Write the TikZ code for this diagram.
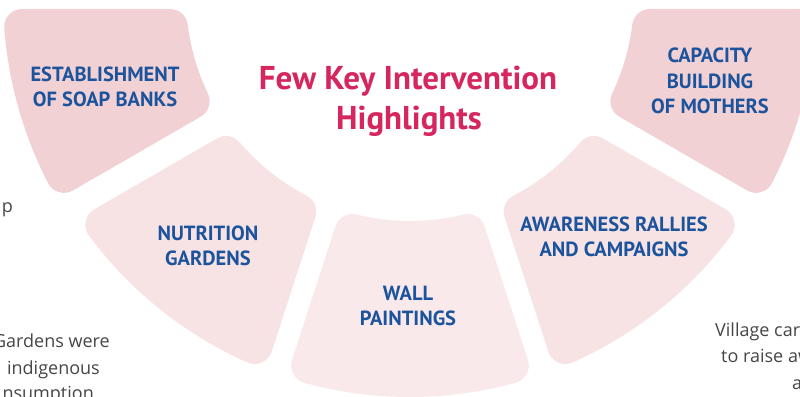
\documentclass[tikz,border=0pt]{standalone}
\usepackage{fontspec}
\setmainfont{PT Sans}
\newfontfamily\lightfont{Open Sans}
\usetikzlibrary{calc}
\definecolor{pinkA}{RGB}{242,209,212}
\definecolor{pinkB}{RGB}{247,227,228}
\definecolor{pinkC}{RGB}{249,233,234}
\definecolor{kblue}{RGB}{27,83,156}
\definecolor{kred}{RGB}{214,38,94}
\definecolor{kgray}{RGB}{70,70,70}
% #1 start angle, #2 start offset, #3 end angle, #4 end offset, #5 inner r, #6 outer r, #7 colour
\newcommand\ringpetal[7]{%
  \pgfmathsetmacro\ri{#5+18}%
  \pgfmathsetmacro\ro{#6-18}%
  \pgfmathsetmacro\aA{#1+asin((#2+18)/\ri)}%
  \pgfmathsetmacro\aB{#1+asin((#2+18)/\ro)}%
  \pgfmathsetmacro\aC{#3-asin((#4+18)/\ro)}%
  \pgfmathsetmacro\aD{#3-asin((#4+18)/\ri)}%
  \filldraw[fill=#7,draw=#7,line width=36pt,line join=round]
    ($(C)+(\aA:\ri)$) -- ($(C)+(\aB:\ro)$)
    arc[start angle=\aB,end angle=\aC,radius=\ro]
    -- ($(C)+(\aD:\ri)$)
    arc[start angle=\aD,end angle=\aA,radius=\ri] -- cycle;%
}
\begin{document}
\begin{tikzpicture}[x=1pt,y=1pt,
  lbl/.style={font=\bfseries\fontsize{20.5}{25.5}\selectfont,text=kblue,align=center,inner sep=0pt},
  ttl/.style={font=\bfseries\fontsize{33}{40}\selectfont,text=kred,inner sep=0pt,anchor=base},
  side/.style={font=\lightfont\fontsize{18}{26}\selectfont,text=kgray,inner sep=0pt}]
\clip (0,0) rectangle (800,396);
\fill[white] (0,0) rectangle (800,396);
\coordinate (C) at (410,399);
\ringpetal{180}{12}{210}{1}{224}{407}{pinkA}
\ringpetal{210}{26}{252}{22}{224}{400}{pinkB}
\ringpetal{252}{0}{288}{0}{224}{400}{pinkC}
\ringpetal{288}{22}{330}{26}{224}{400}{pinkB}
\ringpetal{330}{1}{360}{12}{224}{407}{pinkA}
\node[lbl] (soap) at (105,309) {ESTABLISHMENT\\OF SOAP BANKS};
\node[lbl] (nutri) at (208,150) {NUTRITION\\GARDENS};
\node[lbl] (wall) at (408,90) {WALL\\PAINTINGS};
\node[lbl] (aware) at (614,159) {AWARENESS RALLIES\\AND CAMPAIGNS};
\node[lbl] (capac) at (710,315) {CAPACITY\\BUILDING\\OF MOTHERS};
\node[ttl] (title1) at (408,306) {Few Key Intervention};
\node[ttl] (title2) at (409,266) {Highlights};
\node[side,anchor=base east] (l0) at (13,183) {up};
\node[side,anchor=base east] (l1) at (110,48) {Gardens were};
\node[side,anchor=base east] (l2) at (100,21) {indigenous};
\node[side,anchor=base east] (l3) at (94,-4) {nsumption};
\node[side,anchor=base west] (r1) at (715,59) {Village car};
\node[side,anchor=base west] (r2) at (721,33) {to raise aw};
\node[side,anchor=base west] (r3) at (792,6) {a};
\end{tikzpicture}
\end{document}
